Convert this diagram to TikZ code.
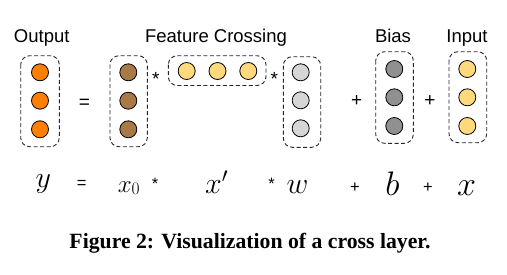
\RequirePackage{fix-cm}
\documentclass[tikz,border=0pt]{standalone}
\usepackage[no-math]{fontspec}
\setsansfont{Liberation Sans}
\setmainfont{Liberation Serif}
\newfontfamily\capfont{Liberation Serif}
\newfontfamily\lmrfont{Latin Modern Roman}
\definecolor{corange}{HTML}{FF8000}
\definecolor{cbrown}{HTML}{A87A48}
\definecolor{cyellow}{HTML}{FFD97C}
\definecolor{clgray}{HTML}{D6D6D6}
\definecolor{cdgray}{HTML}{909090}
\tikzset{
  unit/.style={circle, draw=black, line width=0.8pt, minimum size=17pt, inner sep=0pt},
  grp/.style={draw=black!85, line width=0.9pt, dash pattern=on 4pt off 2.5pt, rounded corners=9pt},
  lab/.style={font=\sffamily\fontsize{18.5}{20}\selectfont, anchor=base, inner sep=0pt},
  bigop/.style={font=\sffamily\fontsize{19}{20}\selectfont, anchor=base, inner sep=0pt},
  smallop/.style={font=\sffamily\fontsize{16.5}{18}\selectfont, anchor=base, inner sep=0pt},
  mth/.style={anchor=base, inner sep=0pt},
}
\begin{document}
\begin{tikzpicture}[x=1pt,y=-1pt]
\useasboundingbox (0,0) rectangle (507,274);
% labels
\node[lab] (lout) at (41.7,42.5) {Output};
\node[lab] (lfc) at (216,42.5) {Feature Crossing};
\node[lab] (lbias) at (393,42) {Bias};
\node[lab] (lin) at (467,42) {Input};
% output
\draw[grp] (20.7,55.7) rectangle (59.3,146.7);
\node[unit, fill=corange] (o1) at (40,72.3) {};
\node[unit, fill=corange] (o2) at (40,100.7) {};
\node[unit, fill=corange] (o3) at (40,129.3) {};
\node[bigop] (eq) at (84.3,108.5) {=};
% x0
\draw[grp] (110,55.7) rectangle (147.3,146.7);
\node[unit, fill=cbrown] (a1) at (128.3,72.3) {};
\node[unit, fill=cbrown] (a2) at (128.3,100.7) {};
\node[unit, fill=cbrown] (a3) at (128.3,129.3) {};
\node[bigop] (st1) at (155.7,85) {*};
% feature crossing
\draw[grp] (168.3,55.7) rectangle (266,85.5);
\node[unit, fill=cyellow] (f1) at (186.7,71) {};
\node[unit, fill=cyellow] (f2) at (217.5,71) {};
\node[unit, fill=cyellow] (f3) at (248.3,71) {};
\node[bigop] (st2) at (274.3,85) {*};
% w
\draw[grp] (283.3,56.7) rectangle (320.7,147.3);
\node[unit, fill=clgray] (w1) at (300.7,72.3) {};
\node[unit, fill=clgray] (w2) at (300.7,100.3) {};
\node[unit, fill=clgray] (w3) at (300.7,128.3) {};
\node[bigop] (pl1) at (356.7,106.5) {+};
% bias
\draw[grp] (375.7,51.7) rectangle (413.3,143.3);
\node[unit, fill=cdgray] (b1) at (394.3,69) {};
\node[unit, fill=cdgray] (b2) at (394.3,97.3) {};
\node[unit, fill=cdgray] (b3) at (394.3,126) {};
\node[bigop] (pl2) at (430,106) {+};
% input
\draw[grp] (449,51.7) rectangle (486.7,142.7);
\node[unit, fill=cyellow] (i1) at (467.3,69) {};
\node[unit, fill=cyellow] (i2) at (467.3,97.3) {};
\node[unit, fill=cyellow] (i3) at (467.3,126) {};
% equation row
\node[mth, font=\fontsize{30}{30}\selectfont] (my) at (43.3,187.5) {$y$};
\node[smallop] (meq) at (81.7,188) {=};
\node[mth, font=\fontsize{25}{25}\selectfont] (mx0) at (128.8,192.3) {$x$\raisebox{-2pt}{\lmrfont\fontsize{17.5}{18}\selectfont 0}};
\node[smallop] (mst1) at (155,189) {*};
\node[mth, font=\fontsize{30}{30}\selectfont] (mxp) at (216.7,193.3) {$x'$};
\node[smallop] (mst2) at (271.7,189) {*};
\node[mth, font=\fontsize{30}{30}\selectfont] (mw) at (297.5,193.3) {$w$};
\node[smallop] (mpl1) at (355,192) {+};
\node[mth, font=\fontsize{34}{34}\selectfont] (mb) at (392.5,195.7) {$b$};
\node[smallop] (mpl2) at (428,192) {+};
\node[mth, font=\fontsize{34}{34}\selectfont] (mx) at (466.7,195) {$x$};
% caption
\node[anchor=base, inner sep=0pt] (cap) at (250,248) {\resizebox{361pt}{!}{\capfont\bfseries Figure 2: Visualization of a cross layer.}};
\end{tikzpicture}
\end{document}
